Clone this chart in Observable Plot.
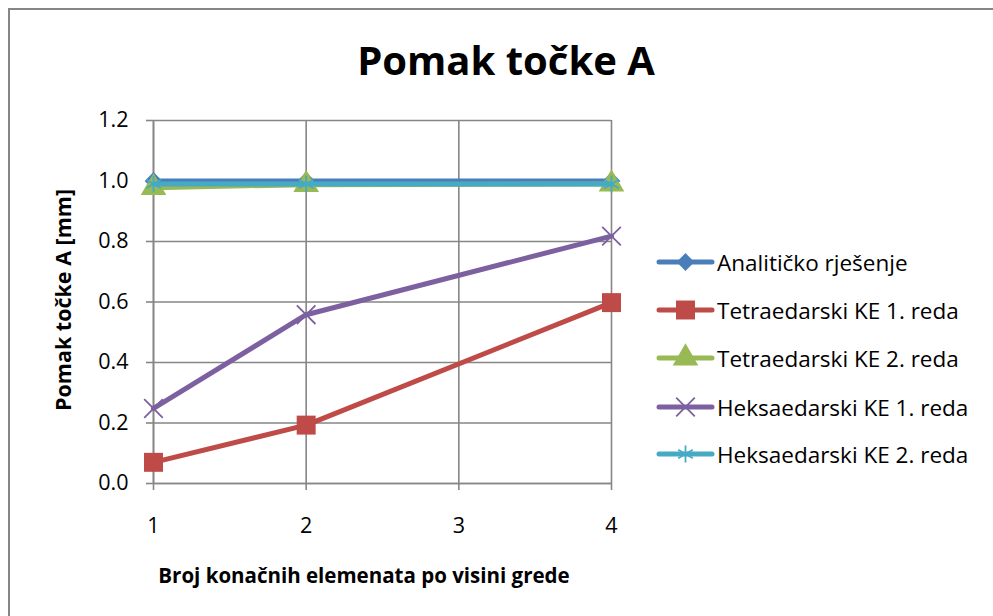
<!DOCTYPE html>
<html>
<head>
<meta charset="utf-8">
<script src="https://cdn.jsdelivr.net/npm/d3@7"></script>
<script src="https://cdn.jsdelivr.net/npm/@observablehq/plot@0.6"></script>
<style>
  html, body { margin: 0; padding: 0; background: #fff; }
  #chart { position: relative; width: 993px; height: 616px; }
</style>
</head>
<body>
<div id="chart"></div>
<script>
const title = "Pomak točke A";
const xLabel = "Broj konačnih elemenata po visini grede";
const yLabel = "Pomak točke A [mm]";
const xValues = [1, 2, 4];
const xTicks = [1, 2, 3, 4];
const yTicks = [0, 0.2, 0.4, 0.6, 0.8, 1.0, 1.2];
const seriesNames = [
  "Analitičko rješenje",
  "Tetraedarski KE 1. reda",
  "Tetraedarski KE 2. reda",
  "Heksaedarski KE 1. reda",
  "Heksaedarski KE 2. reda"
];
const analiticko = [1.0, 1.0, 1.0];
const tetra1 = [0.07, 0.193, 0.598];
const tetra2 = [0.978, 0.988, 0.99];
const heksa1 = [0.248, 0.558, 0.818];
const heksa2 = [0.99, 0.99, 0.99];
const colors = ["#4a7ebb", "#be4b48", "#98b954", "#7d60a0", "#46aac5"];
const symbols = ["diamond2", "square", "triangle", "times", "asterisk"];

const seriesValues = [analiticko, tetra1, tetra2, heksa1, heksa2];
const data = seriesNames.flatMap((name, i) =>
  xValues.map((x, j) => ({series: name, idx: i, x, y: seriesValues[i][j]})));

const font = "'Open Sans', 'Noto Sans', sans-serif";
const gridColor = "#868686";
const symR = {diamond2: 8, square: 10.7, triangle: 9.5, times: 8.5, asterisk: 8};

const marks = [
  Plot.gridY(yTicks, {stroke: gridColor, strokeOpacity: 1, strokeWidth: 1.6}),
  Plot.gridX(xTicks, {stroke: gridColor, strokeOpacity: 1, strokeWidth: 1.6}),
  Plot.axisY(yTicks, {tickSize: 7, tickPadding: 18, fontSize: 21.5, tickFormat: d3.format(".1f"), stroke: gridColor, strokeWidth: 1.6, label: null, fill: "#000"}),
  Plot.axisX(xTicks, {tickSize: 7, tickPadding: 27, fontSize: 21.5, tickFormat: d => String(d), stroke: gridColor, strokeWidth: 1.6, label: null, fill: "#000"}),
  Plot.ruleX([1], {stroke: gridColor, strokeWidth: 1.6}),
  Plot.ruleY([0], {stroke: gridColor, strokeWidth: 1.6})
];
seriesNames.forEach((name, i) => {
  const d = data.filter(r => r.idx === i);
  marks.push(Plot.line(d, {x: "x", y: "y", stroke: colors[i], strokeWidth: 5}));
  const sym = symbols[i];
  const isStroke = sym === "times" || sym === "asterisk";
  marks.push(Plot.dot(d, {x: "x", y: "y", symbol: () => sym, r: symR[sym],
    fill: isStroke ? "none" : colors[i],
    stroke: isStroke ? colors[i] : "none",
    strokeWidth: isStroke ? 1.8 : 0}));
});

const plot = Plot.plot({
  width: 993,
  height: 616,
  marginLeft: 153,
  marginRight: 382,
  marginTop: 120,
  marginBottom: 133,
  x: {type: "linear", domain: [1, 4]},
  y: {domain: [0, 1.2]},
  symbol: {type: "identity"},
  style: {fontFamily: font, fontSize: "21.5px", background: "#fff", color: "#000"},
  marks
});

const svg = d3.select(plot);
svg.insert("path", ":first-child")
  .attr("d", "M9,616 V9 H993")
  .attr("fill", "none").attr("stroke", "#868686").attr("stroke-width", 2);

function addText(txt, x, y, size, bold, anchor, transform, baseline) {
  const t = svg.append("text").text(txt)
    .style("font-family", font).style("font-size", size + "px")
    .style("font-weight", bold ? "bold" : "normal")
    .style("text-anchor", anchor).style("dominant-baseline", baseline || "central")
    .style("fill", "#000");
  if (transform) t.attr("transform", transform); else t.attr("x", x).attr("y", y);
  return t;
}

addText(title, 506, 75, 40, true, "middle", null, "alphabetic");
addText(xLabel, 364, 583, 20.5, true, "middle", null, "alphabetic");
addText(yLabel, 0, 0, 21.5, true, "middle", "translate(62,300) rotate(-90)");

const legendY = [262, 310, 358, 407, 454];
seriesNames.forEach((name, i) => {
  const g = svg.append("g").attr("transform", `translate(0,${legendY[i]})`);
  g.append("line").attr("x1", 659).attr("x2", 712).attr("y1", 0).attr("y2", 0)
    .attr("stroke", colors[i]).attr("stroke-width", 5).attr("stroke-linecap", "round");
  const sym = symbols[i];
  const isStroke = sym === "times" || sym === "asterisk";
  const symObj = {diamond2: d3.symbolDiamond2, square: d3.symbolSquare, triangle: d3.symbolTriangle, times: d3.symbolTimes, asterisk: d3.symbolAsterisk}[sym];
  g.append("path").attr("d", d3.symbol(symObj, Math.PI * symR[sym] * symR[sym])())
    .attr("transform", "translate(685.5,0)")
    .attr("fill", isStroke ? "none" : colors[i])
    .attr("stroke", isStroke ? colors[i] : "none").attr("stroke-width", 1.8);
  g.append("text").text(name).attr("x", 717).attr("y", 0)
    .style("font-family", font).style("font-size", "22.5px").style("text-anchor", "start")
    .style("dominant-baseline", "central").style("fill", "#000");
});

document.getElementById("chart").appendChild(plot);
</script>
</body>
</html>
